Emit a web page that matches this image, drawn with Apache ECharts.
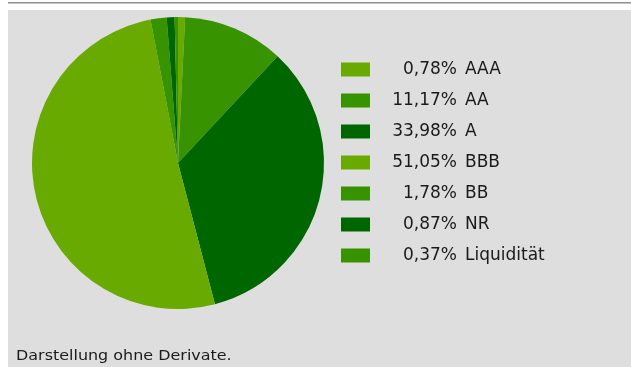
<!DOCTYPE html>
<html>
<head>
<meta charset="utf-8">
<script src="https://cdn.jsdelivr.net/npm/echarts@6/dist/echarts.min.js"></script>
<style>
  html, body { margin: 0; padding: 0; background: #ffffff; }
  #chart { width: 631px; height: 367px; }
</style>
</head>
<body>
<div id="chart"></div>
<script>
// Rating breakdown (share of portfolio, %)
const ratings = ['AAA', 'AA', 'A', 'BBB', 'BB', 'NR', 'Liquidität'];
const shares = [0.78, 11.17, 33.98, 51.05, 1.78, 0.87, 0.37];
const sliceColors = ['#69aa00', '#379300', '#006600', '#69aa00', '#379300', '#006600', '#379300'];
const footnote = 'Darstellung ohne Derivate.';

const FONT = 'DejaVu Sans, Verdana, sans-serif';
const fmtPct = v => v.toFixed(2).replace('.', ',') + '%';
const shareByName = {};
ratings.forEach((r, i) => { shareByName[r] = shares[i]; });

const chart = echarts.init(document.getElementById('chart'), null, { renderer: 'canvas' });

chart.setOption({
  animation: false,
  backgroundColor: '#ffffff',
  textStyle: { fontFamily: FONT },
  graphic: [
    { type: 'rect', z: -10, shape: { x: 8, y: 10, width: 623, height: 357 }, style: { fill: '#dedede' } },
    { type: 'rect', z: -10, shape: { x: 8, y: 2, width: 623, height: 1 }, style: { fill: '#8f8f8f' } },
    { type: 'rect', z: -10, shape: { x: 8, y: 3, width: 623, height: 1 }, style: { fill: '#c4c4c4' } },
    {
      type: 'text', x: 16, y: 356, scaleX: 1.14,
      style: { text: footnote, fill: '#1a1a1a', fontSize: 14, fontFamily: FONT, verticalAlign: 'middle' }
    }
  ],
  legend: {
    orient: 'vertical',
    left: 341,
    top: 61,
    padding: 0,
    itemWidth: 29,
    itemHeight: 14,
    itemGap: 14,
    icon: 'rect',
    selectedMode: false,
    data: ratings,
    formatter: name => '{p|' + fmtPct(shareByName[name]) + '}{n|' + name + '}',
    textStyle: {
      color: '#1a1a1a',
      rich: {
        // both fragments right-aligned so the percentage column ends at a fixed x
        p: { fontSize: 17, fontFamily: FONT, color: '#1a1a1a', width: 82, align: 'right', lineHeight: 16 },
        n: { fontSize: 17, fontFamily: FONT, color: '#1a1a1a', lineHeight: 16, align: 'right', padding: [0, 0, 0, 8] }
      }
    }
  },
  series: [{
    type: 'pie',
    center: [178, 163],
    radius: 146,
    startAngle: 90,
    clockwise: true,
    label: { show: false },
    labelLine: { show: false },
    emphasis: { disabled: true },
    itemStyle: { borderWidth: 0 },
    data: ratings.map((r, i) => ({ name: r, value: shares[i], itemStyle: { color: sliceColors[i] } }))
  }]
});
</script>
</body>
</html>
